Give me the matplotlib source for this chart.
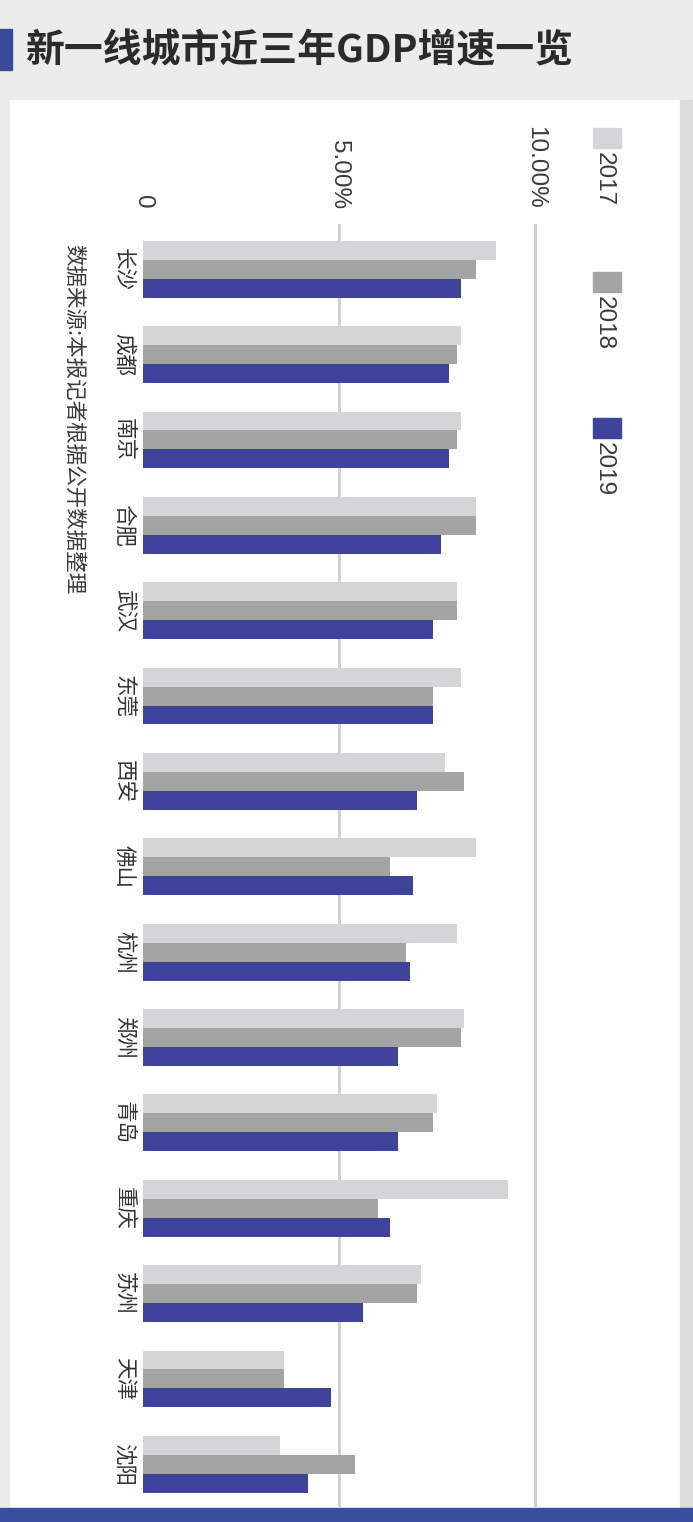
import numpy as np
import matplotlib.pyplot as plt
from matplotlib.patches import Rectangle

plt.rcParams['font.family'] = ['Noto Sans CJK SC', 'DejaVu Sans']

cities = ['长沙', '成都', '南京', '合肥', '武汉', '东莞', '西安', '佛山',
          '杭州', '郑州', '青岛', '重庆', '苏州', '天津', '沈阳']
gdp_2017 = [9.0, 8.1, 8.1, 8.5, 8.0, 8.1, 7.7, 8.5, 8.0, 8.2, 7.5, 9.3, 7.1, 3.6, 3.5]
gdp_2018 = [8.5, 8.0, 8.0, 8.5, 8.0, 7.4, 8.2, 6.3, 6.7, 8.1, 7.4, 6.0, 7.0, 3.6, 5.4]
gdp_2019 = [8.1, 7.8, 7.8, 7.6, 7.4, 7.4, 7.0, 6.9, 6.8, 6.5, 6.5, 6.3, 5.6, 4.8, 4.2]
years = ['2017', '2018', '2019']
colors = ['#d5d5d7', '#a4a4a4', '#40439c']
ticks = [0, 5, 10]
tick_labels = ['0', '5.00%', '10.00%']

W, H = 693, 1522
fig = plt.figure(figsize=(W / 100, H / 100), dpi=100)
fig.patch.set_facecolor('#ececec')

def fx(px):
    return px / W

def fy(py):
    return 1 - py / H

# background pieces: white panel, right strip, bottom band, title marker
fig.patches.append(Rectangle((fx(10), fy(1508)), fx(670), 1408 / H,
                             transform=fig.transFigure, color='white', zorder=-2))
fig.patches.append(Rectangle((fx(680), fy(1508)), fx(13), 1408 / H,
                             transform=fig.transFigure, color='#dcdcdc', zorder=-2))
fig.patches.append(Rectangle((0, 0), 1, 14 / H,
                             transform=fig.transFigure, color='#3a4d9e', zorder=-2))
fig.patches.append(Rectangle((0, fy(70)), fx(12), 41 / H,
                             transform=fig.transFigure, color='#3a4a99', zorder=-2))

fig.text(fx(26), fy(51), '新一线城市近三年GDP增速一览', fontsize=28,
         fontweight='bold', color='#2b2b2b', ha='left', va='center')

ax = fig.add_axes([fx(143), fy(1507), 10.6 * 39.2 / W, (1507 - 224) / H])
ax.set_zorder(5)
ax.set_facecolor('none')

y = np.arange(len(cities))
h = 0.222
for k, (vals, c) in enumerate(zip([gdp_2017, gdp_2018, gdp_2019], colors)):
    ax.barh(y + (k - 1) * h, vals, height=h, color=c, zorder=2)

for t in ticks[1:]:
    ax.axvline(t, color='#cdcdcd', lw=2, zorder=1)

ax.set_xlim(0, 10.6)
ax.set_ylim(14.5, -0.53)
for s in ax.spines.values():
    s.set_visible(False)

ax.xaxis.tick_top()
ax.set_xticks(ticks)
ax.set_xticklabels(tick_labels, rotation=-90, fontsize=17.5,
                   family=['Liberation Sans', 'DejaVu Sans'], color='#3a3a3a')
ax.tick_params(axis='x', length=0, pad=11)
ax.set_yticks(y)
ax.set_yticklabels(cities, rotation=-90, fontsize=15.5, color='#333333', va='center')
ax.tick_params(axis='y', length=0, pad=6)

fig.text(fx(73), fy(244), '数据来源:本报记者根据公开数据整理', rotation=-90,
         fontsize=15.5, color='#3a3a3a', ha='center', va='top')

# legend, rotated like the rest of the chart
leg_y = [128, 272, 418]
for yr, c, ly in zip(years, colors, leg_y):
    fig.patches.append(Rectangle((fx(593), fy(ly + 20)), fx(28), 20 / H,
                                 transform=fig.transFigure, color=c, zorder=1))
    fig.text(fx(604), fy(ly + 24), yr, rotation=-90, fontsize=17.5,
             family=['Liberation Sans', 'DejaVu Sans'], color='#3a3a3a',
             ha='center', va='top')

fig.savefig('out.png', dpi=100, facecolor=fig.get_facecolor())
